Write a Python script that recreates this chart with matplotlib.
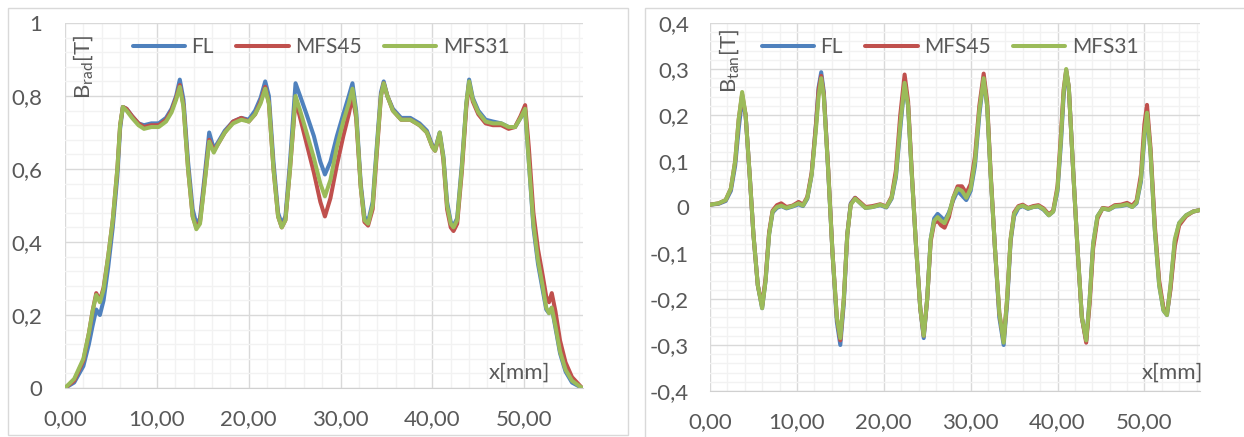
import matplotlib
matplotlib.use("Agg")
import matplotlib.pyplot as plt
from matplotlib.patches import Rectangle
from matplotlib.ticker import MultipleLocator, FuncFormatter

plt.rcParams['font.family'] = ['Lato', 'DejaVu Sans']
plt.rcParams['mathtext.fontset'] = 'custom'
plt.rcParams['mathtext.rm'] = 'Lato'

# ---- data: B_rad (left chart) ----
x_rad = [0, 1, 2, 2.6, 3.0, 3.4, 3.8, 4.2, 4.7, 5.2, 5.7, 6.0, 6.3, 6.7, 7.3, 8.0, 8.6,
         9.4, 10.2, 11.0, 11.6, 12.1, 12.5, 12.9, 13.4, 13.9, 14.3, 14.7, 15.2, 15.7,
         16.2, 16.7, 17.4, 18.3, 19.2, 20.0, 20.7, 21.3, 21.8, 22.2, 22.7, 23.2, 23.6,
         24.0, 24.5, 25.1, 25.6, 26.3, 27.1, 27.8, 28.3, 28.9, 29.6, 30.3, 30.9, 31.3,
         31.7, 32.2, 32.6, 33.0, 33.5, 34.0, 34.4, 34.7, 35.1, 35.7, 36.6, 37.6, 38.6,
         39.4, 40.0, 40.3, 40.8, 41.2, 41.6, 42.0, 42.3, 42.7, 43.2, 43.7, 44.0, 44.4,
         45.0, 45.8, 46.6, 47.5, 48.3, 49.0, 49.6, 50.1, 50.5, 51.0, 51.5, 52.0, 52.4,
         52.7, 53.0, 53.4, 53.9, 54.5, 55.2, 56.3]

rad_fl = [0, 0.015, 0.06, 0.12, 0.17, 0.215, 0.2, 0.24, 0.33, 0.44, 0.58, 0.71, 0.77,
          0.765, 0.745, 0.725, 0.72, 0.725, 0.725, 0.74, 0.765, 0.80, 0.845, 0.79, 0.62,
          0.49, 0.45, 0.465, 0.58, 0.70, 0.655, 0.675, 0.705, 0.73, 0.74, 0.735, 0.76,
          0.795, 0.84, 0.80, 0.62, 0.48, 0.45, 0.47, 0.62, 0.835, 0.80, 0.75, 0.69, 0.62,
          0.585, 0.62, 0.69, 0.75, 0.80, 0.835, 0.76, 0.56, 0.47, 0.455, 0.51, 0.68, 0.81,
          0.84, 0.80, 0.765, 0.74, 0.74, 0.725, 0.705, 0.665, 0.655, 0.70, 0.635, 0.51,
          0.455, 0.445, 0.465, 0.61, 0.78, 0.845, 0.795, 0.76, 0.735, 0.73, 0.725, 0.715,
          0.715, 0.74, 0.76, 0.62, 0.44, 0.34, 0.27, 0.215, 0.205, 0.22, 0.165, 0.095,
          0.045, 0.015, 0.0]

rad_mfs45 = [0, 0.02, 0.075, 0.15, 0.21, 0.26, 0.24, 0.275, 0.36, 0.46, 0.60, 0.72, 0.77,
             0.765, 0.745, 0.725, 0.715, 0.72, 0.72, 0.735, 0.76, 0.795, 0.83, 0.775, 0.6,
             0.47, 0.44, 0.455, 0.565, 0.68, 0.65, 0.67, 0.70, 0.73, 0.74, 0.73, 0.75,
             0.785, 0.825, 0.78, 0.6, 0.47, 0.44, 0.46, 0.6, 0.79, 0.74, 0.67, 0.59, 0.51,
             0.47, 0.52, 0.61, 0.69, 0.75, 0.80, 0.74, 0.55, 0.455, 0.445, 0.49, 0.66, 0.8,
             0.835, 0.80, 0.76, 0.735, 0.735, 0.72, 0.70, 0.66, 0.65, 0.695, 0.625, 0.49,
             0.44, 0.43, 0.45, 0.59, 0.77, 0.835, 0.785, 0.75, 0.725, 0.72, 0.72, 0.71,
             0.715, 0.745, 0.775, 0.66, 0.48, 0.38, 0.31, 0.25, 0.235, 0.26, 0.21, 0.13,
             0.07, 0.03, 0.0]

rad_mfs31 = [0, 0.025, 0.08, 0.15, 0.21, 0.255, 0.235, 0.27, 0.36, 0.46, 0.60, 0.72, 0.77,
             0.76, 0.74, 0.72, 0.71, 0.715, 0.715, 0.73, 0.755, 0.79, 0.825, 0.77, 0.6,
             0.47, 0.435, 0.45, 0.56, 0.675, 0.645, 0.67, 0.70, 0.725, 0.735, 0.73, 0.75,
             0.78, 0.82, 0.78, 0.6, 0.47, 0.44, 0.46, 0.6, 0.80, 0.76, 0.70, 0.63, 0.56,
             0.525, 0.57, 0.66, 0.73, 0.78, 0.82, 0.75, 0.55, 0.46, 0.45, 0.5, 0.67, 0.8,
             0.835, 0.80, 0.76, 0.735, 0.735, 0.72, 0.70, 0.66, 0.65, 0.70, 0.63, 0.5,
             0.45, 0.44, 0.46, 0.6, 0.78, 0.84, 0.79, 0.755, 0.73, 0.725, 0.725, 0.715,
             0.715, 0.74, 0.765, 0.62, 0.45, 0.35, 0.28, 0.22, 0.205, 0.22, 0.17, 0.1,
             0.05, 0.02, 0.0]

# ---- data: B_tan (right chart) ----
x_tan = [0, 1.0, 1.8, 2.4, 2.9, 3.3, 3.7, 4.1, 4.6, 5.0, 5.5, 6.0, 6.4, 6.8, 7.2, 7.7,
         8.2, 8.8, 9.5, 10.2, 10.7, 11.2, 11.7, 12.2, 12.5, 12.8, 13.1, 13.6, 14.1, 14.6,
         15.0, 15.4, 15.8, 16.2, 16.7, 17.2, 17.9, 18.7, 19.6, 20.3, 20.9, 21.4, 21.9,
         22.4, 22.8, 23.2, 23.7, 24.2, 24.6, 25.0, 25.4, 25.8, 26.2, 26.6, 27.0, 27.5,
         28.0, 28.5, 29.0, 29.5, 30.0, 30.5, 31.0, 31.5, 31.9, 32.3, 32.8, 33.3, 33.8,
         34.2, 34.6, 35.0, 35.5, 36.0, 36.6, 37.2, 37.8, 38.4, 39.0, 39.5, 40.0, 40.4,
         40.7, 41.0, 41.3, 41.8, 42.3, 42.8, 43.3, 43.7, 44.1, 44.6, 45.2, 45.9, 46.6,
         47.3, 48.0, 48.6, 49.1, 49.6, 50.0, 50.3, 50.7, 51.2, 51.7, 52.2, 52.6, 53.0,
         53.5, 54.0, 54.8, 55.6, 56.3]

tan_fl = [0.005, 0.007, 0.013, 0.035, 0.09, 0.17, 0.235, 0.2, 0.06, -0.06, -0.17, -0.22,
          -0.16, -0.06, -0.012, -0.002, 0.002, -0.003, 0.001, 0.006, 0.002, 0.018, 0.07,
          0.18, 0.26, 0.293, 0.25, 0.08, -0.1, -0.25, -0.3, -0.21, -0.06, 0.008, 0.02,
          0.01, -0.002, 0.0, 0.004, -0.001, 0.018, 0.065, 0.17, 0.268, 0.22, 0.08, -0.08,
          -0.22, -0.285, -0.2, -0.07, -0.025, -0.015, -0.022, -0.03, -0.012, 0.015, 0.035,
          0.025, 0.015, 0.035, 0.09, 0.2, 0.28, 0.22, 0.07, -0.09, -0.24, -0.3, -0.21,
          -0.075, -0.02, -0.002, 0.002, -0.004, 0.0, 0.001, -0.006, -0.018, -0.01, 0.035,
          0.14, 0.24, 0.295, 0.26, 0.08, -0.09, -0.24, -0.29, -0.2, -0.08, -0.02, -0.003,
          -0.006, 0.001, 0.002, 0.005, 0.0, 0.008, 0.055, 0.15, 0.205, 0.12, -0.05, -0.17,
          -0.225, -0.235, -0.175, -0.075, -0.035, -0.018, -0.01, -0.007]

tan_mfs45 = [0.005, 0.008, 0.015, 0.04, 0.1, 0.19, 0.245, 0.2, 0.06, -0.06, -0.17, -0.215,
             -0.155, -0.055, -0.008, 0.004, 0.008, 0.0, 0.003, 0.011, 0.005, 0.022, 0.075,
             0.18, 0.255, 0.285, 0.245, 0.085, -0.1, -0.24, -0.29, -0.2, -0.06, 0.006,
             0.02, 0.012, 0.0, 0.002, 0.006, 0.001, 0.022, 0.08, 0.2, 0.288, 0.23, 0.085,
             -0.08, -0.22, -0.28, -0.2, -0.075, -0.035, -0.03, -0.04, -0.045, -0.022,
             0.02, 0.045, 0.045, 0.03, 0.05, 0.11, 0.22, 0.29, 0.23, 0.075, -0.09, -0.23,
             -0.29, -0.2, -0.07, -0.012, 0.002, 0.005, -0.002, 0.002, 0.004, -0.003, -0.016,
             -0.008, 0.045, 0.16, 0.255, 0.298, 0.26, 0.08, -0.09, -0.24, -0.295, -0.21,
             -0.09, -0.025, -0.002, -0.004, 0.004, 0.005, 0.009, 0.003, 0.014, 0.07, 0.18,
             0.222, 0.13, -0.04, -0.16, -0.22, -0.23, -0.18, -0.085, -0.04, -0.02, -0.01,
             -0.007]

tan_mfs31 = [0.005, 0.008, 0.015, 0.04, 0.1, 0.19, 0.25, 0.2, 0.06, -0.06, -0.17, -0.22,
             -0.16, -0.06, -0.01, 0.0, 0.003, -0.002, 0.002, 0.008, 0.003, 0.02, 0.07,
             0.17, 0.24, 0.28, 0.24, 0.08, -0.1, -0.24, -0.285, -0.2, -0.06, 0.005, 0.018,
             0.01, -0.002, 0.0, 0.005, 0.0, 0.02, 0.07, 0.18, 0.27, 0.22, 0.08, -0.08,
             -0.22, -0.28, -0.2, -0.07, -0.03, -0.022, -0.03, -0.035, -0.015, 0.02, 0.04,
             0.035, 0.02, 0.04, 0.1, 0.21, 0.28, 0.22, 0.07, -0.09, -0.23, -0.295, -0.2,
             -0.07, -0.015, 0.0, 0.003, -0.003, 0.0, 0.002, -0.005, -0.018, -0.01, 0.04,
             0.15, 0.25, 0.30, 0.26, 0.08, -0.09, -0.24, -0.29, -0.2, -0.08, -0.02, -0.003,
             -0.006, 0.002, 0.003, 0.006, 0.0, 0.01, 0.06, 0.16, 0.205, 0.12, -0.05, -0.17,
             -0.225, -0.235, -0.17, -0.07, -0.035, -0.018, -0.01, -0.007]

series_names = ["FL", "MFS45", "MFS31"]
series_colors = ["#4F81BD", "#C0504D", "#9BBB59"]

W, H = 1244, 437
TXT = "#595959"

fig = plt.figure(figsize=(W / 100, H / 100), dpi=100)

# chart frames (Excel chart area borders)
fig.add_artist(Rectangle((8 / W, 1 - 435 / H), 620 / W, 427 / H, transform=fig.transFigure,
                         fill=False, ec="#D9D9D9", lw=1.0))
fig.add_artist(Rectangle((645 / W, -0.05), 0.6, 1.05 - 8 / H, transform=fig.transFigure,
                         fill=False, ec="#D9D9D9", lw=1.0))

ax1 = fig.add_axes([65 / W, 1 - 388 / H, 518 / W, 365 / H])
ax2 = fig.add_axes([710 / W, 1 - 391 / H, 490 / W, 368 / H])

comma = lambda dec: FuncFormatter(lambda v, p: f"{v:.{dec}f}".replace(".", ",") if dec else f"{v:g}")


def style_axes(ax, ymin, ymax, ymajor, yminor, ydec, ypad):
    ax.set_xlim(0, 56.4)
    ax.set_ylim(ymin, ymax)
    ax.xaxis.set_major_locator(MultipleLocator(10))
    ax.xaxis.set_minor_locator(MultipleLocator(2))
    ax.yaxis.set_major_locator(MultipleLocator(ymajor))
    ax.yaxis.set_minor_locator(MultipleLocator(yminor))
    ax.xaxis.set_major_formatter(FuncFormatter(lambda v, p: f"{v:.2f}".replace(".", ",")))
    ax.yaxis.set_major_formatter(FuncFormatter(
        lambda v, p: "0" if abs(v) < 1e-9 else (f"{v:.{ydec}f}".replace(".", ",").rstrip("0").rstrip(","))))
    ax.grid(which="major", color="#D9D9D9", lw=1.0)
    ax.grid(which="minor", color="#F2F2F2", lw=1.0)
    ax.set_axisbelow(True)
    for s in ["top", "right", "left"]:
        ax.spines[s].set_visible(False)
    ax.spines["bottom"].set_color("#D0D0D0")
    ax.tick_params(which="both", length=0, colors=TXT, labelsize=16)
    ax.tick_params(axis="y", pad=ypad)
    ax.tick_params(axis="x", pad=15)


style_axes(ax1, 0, 1.0, 0.2, 0.04, 1, 16.5)
style_axes(ax2, -0.4, 0.4, 0.1, 0.02, 1, 15)

for ys, name, c in zip([rad_fl, rad_mfs45, rad_mfs31], series_names, series_colors):
    ax1.plot(x_rad, ys, color=c, lw=2.9, label=name, solid_joinstyle="round", solid_capstyle="round")
for ys, name, c in zip([tan_fl, tan_mfs45, tan_mfs31], series_names, series_colors):
    ax2.plot(x_tan, ys, color=c, lw=2.9, label=name, solid_joinstyle="round", solid_capstyle="round")

for ax, cx in [(ax1, 321), (ax2, 950)]:
    leg = ax.legend(loc="center", bbox_to_anchor=(cx / W, 1 - 47 / H), bbox_transform=fig.transFigure,
                    ncol=3, frameon=False, handlelength=2.5, handletextpad=0.3, columnspacing=1.1,
                    fontsize=15)
    for t in leg.get_texts():
        t.set_color(TXT)

# axis titles inside the plot area
fig.text(84 / W, 1 - 99 / H, r"B$_{\mathrm{rad}}$[T]", rotation=90, ha="center", va="bottom",
         fontsize=16, color=TXT)
fig.text(730 / W, 1 - 93 / H, r"B$_{\mathrm{tan}}$[T]", rotation=90, ha="center", va="bottom",
         fontsize=16, color=TXT)
fig.text(550 / W, 1 - 373 / H, "x[mm]", ha="right", va="center", fontsize=16, color=TXT)
fig.text(1203 / W, 1 - 373 / H, "x[mm]", ha="right", va="center", fontsize=16, color=TXT)

fig.savefig("out.png", dpi=100)
